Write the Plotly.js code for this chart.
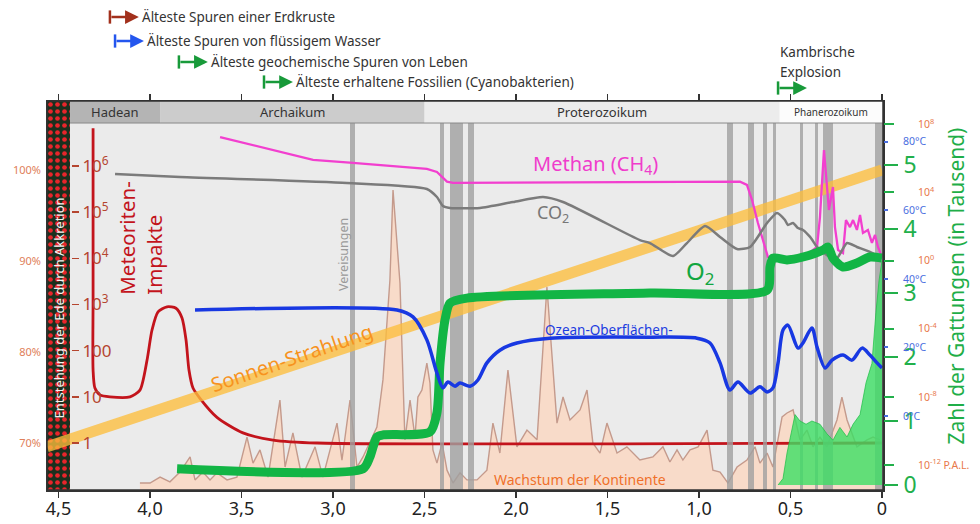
<!DOCTYPE html>
<html><head><meta charset="utf-8">
<script src="https://cdn.plot.ly/plotly-3.0.1.min.js"></script>
<style>html,body{margin:0;padding:0;background:#fff}#chart{width:980px;height:524px}</style>
</head><body><div id="chart"></div>
<script>
// ---- x axis (billions of years ago) ----
const xTickVals = [4.5, 4.0, 3.5, 3.0, 2.5, 2.0, 1.5, 1.0, 0.5, 0];
const xTickText = ['4,5','4,0','3,5','3,0','2,5','2,0','1,5','1,0','0,5','0'];

// ---- eras ----
const eraNames = ['Hadean', 'Archaikum', 'Proterozoikum', 'Phanerozoikum'];
const eraStart = [4.437, 3.945, 2.5, 0.56];
const eraEnd   = [3.945, 2.5, 0.56, -0.0055];

// ---- glaciations (Vereisungen) ----
const glacStart = [2.907, 2.415, 2.361, 2.262, 0.847, 0.732, 0.650, 0.596, 0.448, 0.366, 0.322, 0.038];
const glacEnd   = [2.880, 2.393, 2.290, 2.230, 0.814, 0.700, 0.628, 0.579, 0.432, 0.350, 0.268, -0.005];

// ---- events (arrow start, Ga) ----
const eventText = ['Älteste Spuren einer Erdkruste', 'Älteste Spuren von flüssigem Wasser',
  'Älteste geochemische Spuren von Leben', 'Älteste erhaltene Fossilien (Cyanobakterien)', ''];
const eventStart = [4.219, 4.191, 3.842, 3.377, 0.568];

// ---- meteorite impacts (relative rate, log) ----
const meteorT = [4.311, 4.311, 4.311, 4.301, 4.273, 4.219, 4.109, 4.055, 4.016, 3.989, 3.956, 3.907, 3.858, 3.825, 3.803, 3.787, 3.765, 3.727, 3.634, 3.492, 3.328, 3.087, 0];
const meteorV = [6.6e6, 1.3e3, 38, 15.5, 11, 10, 10, 14, 63, 280, 690, 890, 830, 510, 170, 38, 15.5, 9.3, 3.6, 1.66, 1.16, 1, 1];

// ---- solar luminosity (% of today) ----
const solarT = [4.5628, 0];
const solarV = [69.6, 100];

// ---- continental growth (relative) ----
const contT = [4.055,4.000,3.945,3.891,3.836,3.781,3.754,3.711,3.672,3.634,3.579,3.525,3.470,3.437,3.399,3.355,3.290,3.262,3.219,3.170,3.098,3.055,2.978,2.951,2.907,2.869,2.836,2.760,2.727,2.689,2.672,2.634,2.607,2.579,2.552,2.536,2.514,2.487,2.470,2.454,2.432,2.404,2.377,2.344,2.306,2.268,2.213,2.159,2.126,2.088,2.044,1.995,1.940,1.885,1.831,1.776,1.743,1.705,1.650,1.612,1.580,1.541,1.503,1.448,1.394,1.323,1.252,1.197,1.159,1.120,1.088,1.049,1.005,0.956,0.924,0.885,0.842,0.792,0.738,0.694,0.667,0.628,0.596,0.546,0.519,0.486,0.448,0.410,0.377,0.339,0.301,0.246,0.219,0.191,0.137,0.082,0.049,0.011];
const contV = [1.8,1.8,3.3,2.1,4.6,8.5,2.6,4.6,2.6,4.4,2.6,3.3,13.6,6.9,10.3,3.3,23.1,5.9,14.7,3.3,11.1,3.3,17.2,7.7,23.1,5.9,8.5,16.2,28.3,53.9,77.1,53.2,12.9,23.1,13.6,23.9,25.7,32.6,27.5,10.3,6.9,12.1,5.1,1.8,4.4,2.6,2.6,5.1,17.2,9.5,30.8,11.1,15.4,12.9,52.2,17.2,23.9,18.0,20.6,25.7,12.1,9.5,17.2,9.5,11.1,7.7,8.5,11.1,7.2,10.3,7.7,10.3,11.1,15.4,5.1,4.6,1.8,5.9,7.7,11.1,6.9,9.5,5.9,18.8,19.8,20.6,12.9,15.4,11.1,13.6,11.1,18.0,23.9,18.0,11.1,12.9,13.6,12.9];

// ---- number of genera (thousands) ----
const genusT = [0.568, 0.541, 0.519, 0.497, 0.475, 0.448, 0.415, 0.383, 0.339, 0.301, 0.268, 0.230, 0.191, 0.158, 0.120, 0.087, 0.055, 0.033, 0.016, 0];
const genusV = [0, 0.1, 0.5, 0.8, 1.1, 1.0, 0.95, 1.0, 0.95, 0.8, 0.7, 0.9, 0.75, 0.95, 1.1, 1.6, 1.9, 2.7, 3.2, 3.5];

// ---- atmospheric gases (P.A.L., log) ----
const methaneT = [3.617, 3.109, 2.891, 2.487, 2.432, 2.377, 2.344, 1.323, 0.776, 0.738, 0.710, 0.678, 0.650, 0.623, 0.596, 0.448, 0.355, 0.339, 0.317, 0.301, 0.290, 0.268, 0.257, 0.240, 0.213, 0.197, 0.175, 0.158, 0.137, 0.120, 0.104, 0.077, 0.055, 0.038, 0.022, 0];
const methaneV = [1.8e7, 8.1e5, 5.4e5, 2.4e5, 1.6e5, 4.3e4, 3.7e4, 4.3e4, 4.3e4, 2.8e4, 3.6e3, 160, 16, 1.6, 1.1, 1.1, 6.3, 360, 3.1e6, 3.6e4, 930, 2.1e4, 93, 4.2, 2.8, 240, 93, 240, 63, 480, 42, 63, 11, 32, 6.3, 1.6];
const co2T = [4.191, 3.836, 2.924, 2.487, 2.432, 2.399, 2.361, 2.197, 2.016, 1.852, 1.743, 1.323, 1.268, 1.142, 1.066, 0.967, 0.885, 0.792, 0.721, 0.628, 0.574, 0.530, 0.514, 0.486, 0.459, 0.432, 0.393, 0.355, 0.322, 0.284, 0.246, 0.191, 0.137, 0.066, 0];
const co2V = [1.23e5, 8.1e4, 3.6e4, 1.6e4, 5.4e3, 1.6e3, 1.23e3, 1.23e3, 2.75e3, 5.4e3, 2.75e3, 16, 10.7, 1.86, 10.7, 107, 24.5, 4.8, 6.3, 162, 631, 240, 123, 162, 81, 63, 24.5, 6.3, 3.2, 1.6, 1.4, 10.7, 6.3, 3.2, 1.4];
const o2T = [3.852, 2.836, 2.798, 2.760, 2.727, 2.470, 2.432, 2.415, 2.388, 2.361, 2.268, 1.268, 0.628, 0.612, 0.596, 0.519, 0.432, 0.322, 0.295, 0.268, 0.213, 0.137, 0.066, 0];
const o2V = [6e-13, 6e-13, 3e-12, 4.4e-11, 5.8e-11, 8.7e-11, 1.15e-9, 9.8e-7, 3.2e-4, 3.2e-3, 6.3e-3, 1.26e-2, 1.86e-2, 0.42, 1.41, 1.1, 1.62, 4.2, 6.3, 1.41, 0.42, 0.72, 1.62, 1.41];

// ---- ocean surface temperature (°C) ----
const tempT = [3.754, 2.650, 2.563, 2.487, 2.432, 2.399, 2.372, 2.333, 2.306, 2.251, 2.208, 2.159, 2.088, 1.995, 1.814, 1.268, 1.011, 0.940, 0.885, 0.831, 0.787, 0.721, 0.667, 0.628, 0.596, 0.568, 0.541, 0.514, 0.459, 0.432, 0.383, 0.355, 0.311, 0.273, 0.213, 0.164, 0.109, 0.066, 0.027, 0];
const tempV = [30.9, 30.9, 28.9, 22.2, 12.5, 8.2, 9.9, 8.7, 9.6, 8.7, 10.5, 15.5, 19.2, 21.3, 22.7, 23.0, 22.7, 21.3, 15.5, 7.6, 9.9, 6.7, 8.5, 7.0, 8.2, 15.5, 25.1, 26.5, 19.8, 21.3, 25.7, 20.1, 14.0, 16.3, 17.8, 16.3, 19.8, 17.8, 15.5, 14.0];

// ---- axis tick labels ----
const meteorTicks = [1, 10, 100, 1e3, 1e4, 1e5, 1e6];
const meteorTickText = ['1', '10', '100', '10<sup>3</sup>', '10<sup>4</sup>', '10<sup>5</sup>', '10<sup>6</sup>'];
const pctTicks = [70, 80, 90, 100];
const pctTickText = ['70%', '80%', '90%', '100%'];
const genusTicks = [0, 1, 2, 3, 4, 5];
const palTicks = [1e-12, 1e-8, 1e-4, 1, 1e4, 1e8];
const palTickText = ['10<sup>-12</sup> P.A.L.', '10<sup>-8</sup>', '10<sup>-4</sup>', '10<sup>0</sup>', '10<sup>4</sup>', '10<sup>8</sup>'];
const tempTicks = [0, 20, 40, 60, 80];
const tempTickText = ['0°C', '20°C', '40°C', '60°C', '80°C'];

const FONT = 'Noto Sans, Open Sans, sans-serif';
const stripT = [4.5628, 4.437];

const traces = [
  {type:'scatter', mode:'lines', x:contT, y:contV, yaxis:'y', fill:'tozeroy',
   fillcolor:'rgba(252,214,190,0.75)', line:{color:'#c49a8c', width:1.4}, hoverinfo:'skip'},
  {type:'scatter', mode:'lines', x:meteorT, y:meteorV, yaxis:'y2',
   line:{color:'#c3141c', width:2.8, shape:'spline', smoothing:0.7}, hoverinfo:'skip'},
  {type:'bar', x:glacStart.map((s,i)=>(s+glacEnd[i])/2), width:glacStart.map((s,i)=>s-glacEnd[i]),
   y:glacStart.map(()=>1), yaxis:'y3', marker:{color:'rgba(160,160,160,0.8)', line:{width:0}}, hoverinfo:'skip'},
  {type:'bar', x:[(stripT[0]+stripT[1])/2], width:[stripT[0]-stripT[1]], y:[1], yaxis:'y3',
   marker:{color:'#17281a', line:{width:0}, pattern:{shape:'.', fgcolor:'#e8252b', bgcolor:'#1a301e', size:7, solidity:0.35}}, hoverinfo:'skip'},
  {type:'scatter', mode:'lines', x:genusT, y:genusV, yaxis:'y4', fill:'tozeroy',
   fillcolor:'rgba(60,222,100,0.8)', line:{color:'rgba(30,190,70,0.9)', width:0.8}, hoverinfo:'skip'},
  {type:'scatter', mode:'lines', x:solarT, y:solarV, yaxis:'y5',
   line:{color:'rgba(252,190,60,0.78)', width:11}, hoverinfo:'skip'},
  {type:'scatter', mode:'lines', x:methaneT, y:methaneV, yaxis:'y6',
   line:{color:'#f23fcf', width:2.3}, hoverinfo:'skip'},
  {type:'scatter', mode:'lines', x:co2T, y:co2V, yaxis:'y6',
   line:{color:'#7b7b7b', width:2.5, shape:'spline', smoothing:0.6}, hoverinfo:'skip'},
  {type:'scatter', mode:'lines', x:o2T, y:o2V, yaxis:'y6',
   line:{color:'#12b545', width:9, shape:'spline', smoothing:0.7}, hoverinfo:'skip'},
  {type:'scatter', mode:'lines', x:tempT, y:tempV, yaxis:'y7',
   line:{color:'#1838e2', width:3.5, shape:'spline', smoothing:0.8}, hoverinfo:'skip'}
];

const eraColors = ['#b4b4b4', '#cccccc', '#ececec', '#fcfcfc'];
const eraFont = [13, 13, 13, 10];
const shapes = [];
const annotations = [];
const yTop = 0.9434;
eraNames.forEach((n,i)=>{
  shapes.push({type:'rect', xref:'x', yref:'paper', x0:eraStart[i], x1:eraEnd[i], y0:yTop, y1:1,
    fillcolor:eraColors[i], line:{width:0}, layer:'above'});
  annotations.push({xref:'x', yref:'paper', x:(eraStart[i]+eraEnd[i])/2, y:(yTop+1)/2, text:n, showarrow:false,
    xanchor:'center', yanchor:'middle', font:{family:FONT, size:eraFont[i], color:'#333'}});
});
shapes.push({type:'line', xref:'x', yref:'paper', x0:stripT[1], x1:-0.0055, y0:yTop, y1:yTop, line:{color:'#8a8a8a', width:1}, layer:'above'});
shapes.push({type:'rect', xref:'paper', yref:'paper', x0:0, x1:1, y0:0, y1:1, line:{color:'#333', width:1.5}, layer:'above'});

// events
const evColors = ['#a2301c', '#2456ee', '#189a3a', '#189a3a', '#189a3a'];
const evY = [1.2159, 1.1542, 1.1003, 1.0488, 1.0334];
const arrowLen = 0.158;
eventStart.forEach((s,i)=>{
  const tip = s - arrowLen;
  shapes.push({type:'line', xref:'x', yref:'paper', x0:s, x1:s, y0:evY[i]-0.017, y1:evY[i]+0.017,
    line:{color:evColors[i], width:2.5}});
  annotations.push({xref:'x', yref:'paper', x:tip, y:evY[i], ax:s, axref:'x', ay:0, ayref:'pixel', text:'',
    showarrow:true, arrowhead:2, arrowsize:1.1, arrowwidth:2.5, arrowcolor:evColors[i]});
  if (eventText[i]) annotations.push({xref:'x', yref:'paper', x:tip - 0.008, y:evY[i], text:eventText[i], showarrow:false,
    xanchor:'left', yanchor:'middle', font:{family:FONT, size:13.5, color:'#333'}});
});
annotations.push({xref:'x', yref:'paper', x:0.57, y:1.126, text:'Kambrische', showarrow:false, xanchor:'left', yanchor:'middle',
  font:{family:FONT, size:13.5, color:'#333'}});
annotations.push({xref:'x', yref:'paper', x:0.57, y:1.0746, text:'Explosion', showarrow:false, xanchor:'left', yanchor:'middle',
  font:{family:FONT, size:13.5, color:'#333'}});

// series labels
function lab(x, y, text, size, color, angle, extra) {
  annotations.push(Object.assign({xref:'x', yref:'paper', x:x, y:y, text:text, showarrow:false,
    xanchor:'center', yanchor:'middle', textangle:angle||0, font:{family:FONT, size:size, color:color}}, extra||{}));
}
lab(1.568, 0.8355, 'Methan (CH<sub>4</sub>)', 20, '#f03ccc');
lab(1.80, 0.712, 'CO<sub>2</sub>', 18, '#777');
lab(0.994, 0.561, 'O<sub>2</sub>', 24, '#12a640');
lab(1.49, 0.411, 'Ozean-Oberflächen-', 13.5, '#1c3ce0');
lab(3.222, 0.340, 'Sonnen-Strahlung', 20, '#f7931e', -19);
lab(1.65, 0.026, 'Wachstum der Kontinente', 14, '#f0702a');
lab(2.945, 0.604, 'Vereisungen', 12.5, '#9a9a9a', -90);
lab(4.050, 0.648, 'Meteoriten-<br>Impakte', 20.5, '#c3141c', -90, {align:'left'});
lab(4.500, 0.468, 'Entstehung der Ede durch Akkretion', 13, '#f2f2f2', -90);
annotations.push({xref:'paper', yref:'paper', x:1.087, y:0.525, text:'Zahl der Gattungen (in Tausend)', showarrow:false,
  xanchor:'center', yanchor:'middle', textangle:-90, font:{family:FONT, size:21, color:'#1fae48'}});

const common = {showgrid:false, zeroline:false, fixedrange:true};
const layout = {
  width:980, height:524, margin:{l:47, r:97, t:101, b:34},
  paper_bgcolor:'#ffffff', plot_bgcolor:'#ebebeb', showlegend:false, barmode:'overlay', bargap:0,
  font:{family:FONT},
  xaxis:Object.assign({}, common, {range:[4.5628, -0.0055], tickvals:xTickVals, ticktext:xTickText,
    ticks:'outside', ticklen:6, tickwidth:1.5, tickcolor:'#333', showline:true, linecolor:'#333', linewidth:1.5,
    mirror:'ticks', ticklabelstandoff:-4, tickfont:{family:FONT, size:18, color:'#222'}}),
  yaxis:Object.assign({}, common, {range:[0, 100], showticklabels:false, ticks:'', showline:true, mirror:true,
    linecolor:'#333', linewidth:1.5}),
  yaxis2:Object.assign({}, common, {overlaying:'y', type:'log', range:[-1.018, 7.408], anchor:'free',
    position:0.0287, side:'right', ticks:'outside', ticklen:7, tickwidth:1.5, tickcolor:'#b5452f',
    tickvals:meteorTicks, ticktext:meteorTickText, tickfont:{family:FONT, size:17, color:'#b5452f'}, showline:false}),
  yaxis3:Object.assign({}, common, {overlaying:'y', range:[0, 1], visible:false}),
  yaxis4:Object.assign({}, common, {overlaying:'y', range:[-0.078, 6.0], anchor:'free', position:1, side:'right',
    ticks:'outside', ticklen:14, tickwidth:2, tickcolor:'#22b04b', tickvals:genusTicks,
    tickfont:{family:FONT, size:23, color:'#22b04b'}, ticklabelstandoff:1, showline:false}),
  yaxis5:Object.assign({}, common, {overlaying:'y', range:[64.84, 107.58], anchor:'free', position:0, side:'left',
    ticks:'', tickvals:pctTicks, ticktext:pctTickText, tickfont:{family:FONT, size:11, color:'#e0805a'},
    ticklabelstandoff:6, showline:false}),
  yaxis6:Object.assign({}, common, {overlaying:'y', type:'log', range:[-13.47, 9.37], anchor:'free', position:1, side:'right',
    ticks:'outside', ticklen:10, tickwidth:2, tickcolor:'#22b04b', tickvals:palTicks, ticktext:palTickText,
    tickfont:{family:FONT, size:10.5, color:'#e8784a'}, ticklabelstandoff:22, showline:false}),
  yaxis7:Object.assign({}, common, {overlaying:'y', range:[-21.58, 91.87], anchor:'free', position:1, side:'right',
    ticks:'outside', ticklen:4, tickwidth:2, tickcolor:'#4a6ee0', tickvals:tempTicks, ticktext:tempTickText,
    tickfont:{family:FONT, size:10.5, color:'#4a6ee0'}, ticklabelstandoff:13, showline:false}),
  shapes:shapes, annotations:annotations
};
Plotly.newPlot('chart', traces, layout, {staticPlot:true, displayModeBar:false});
</script></body></html>
